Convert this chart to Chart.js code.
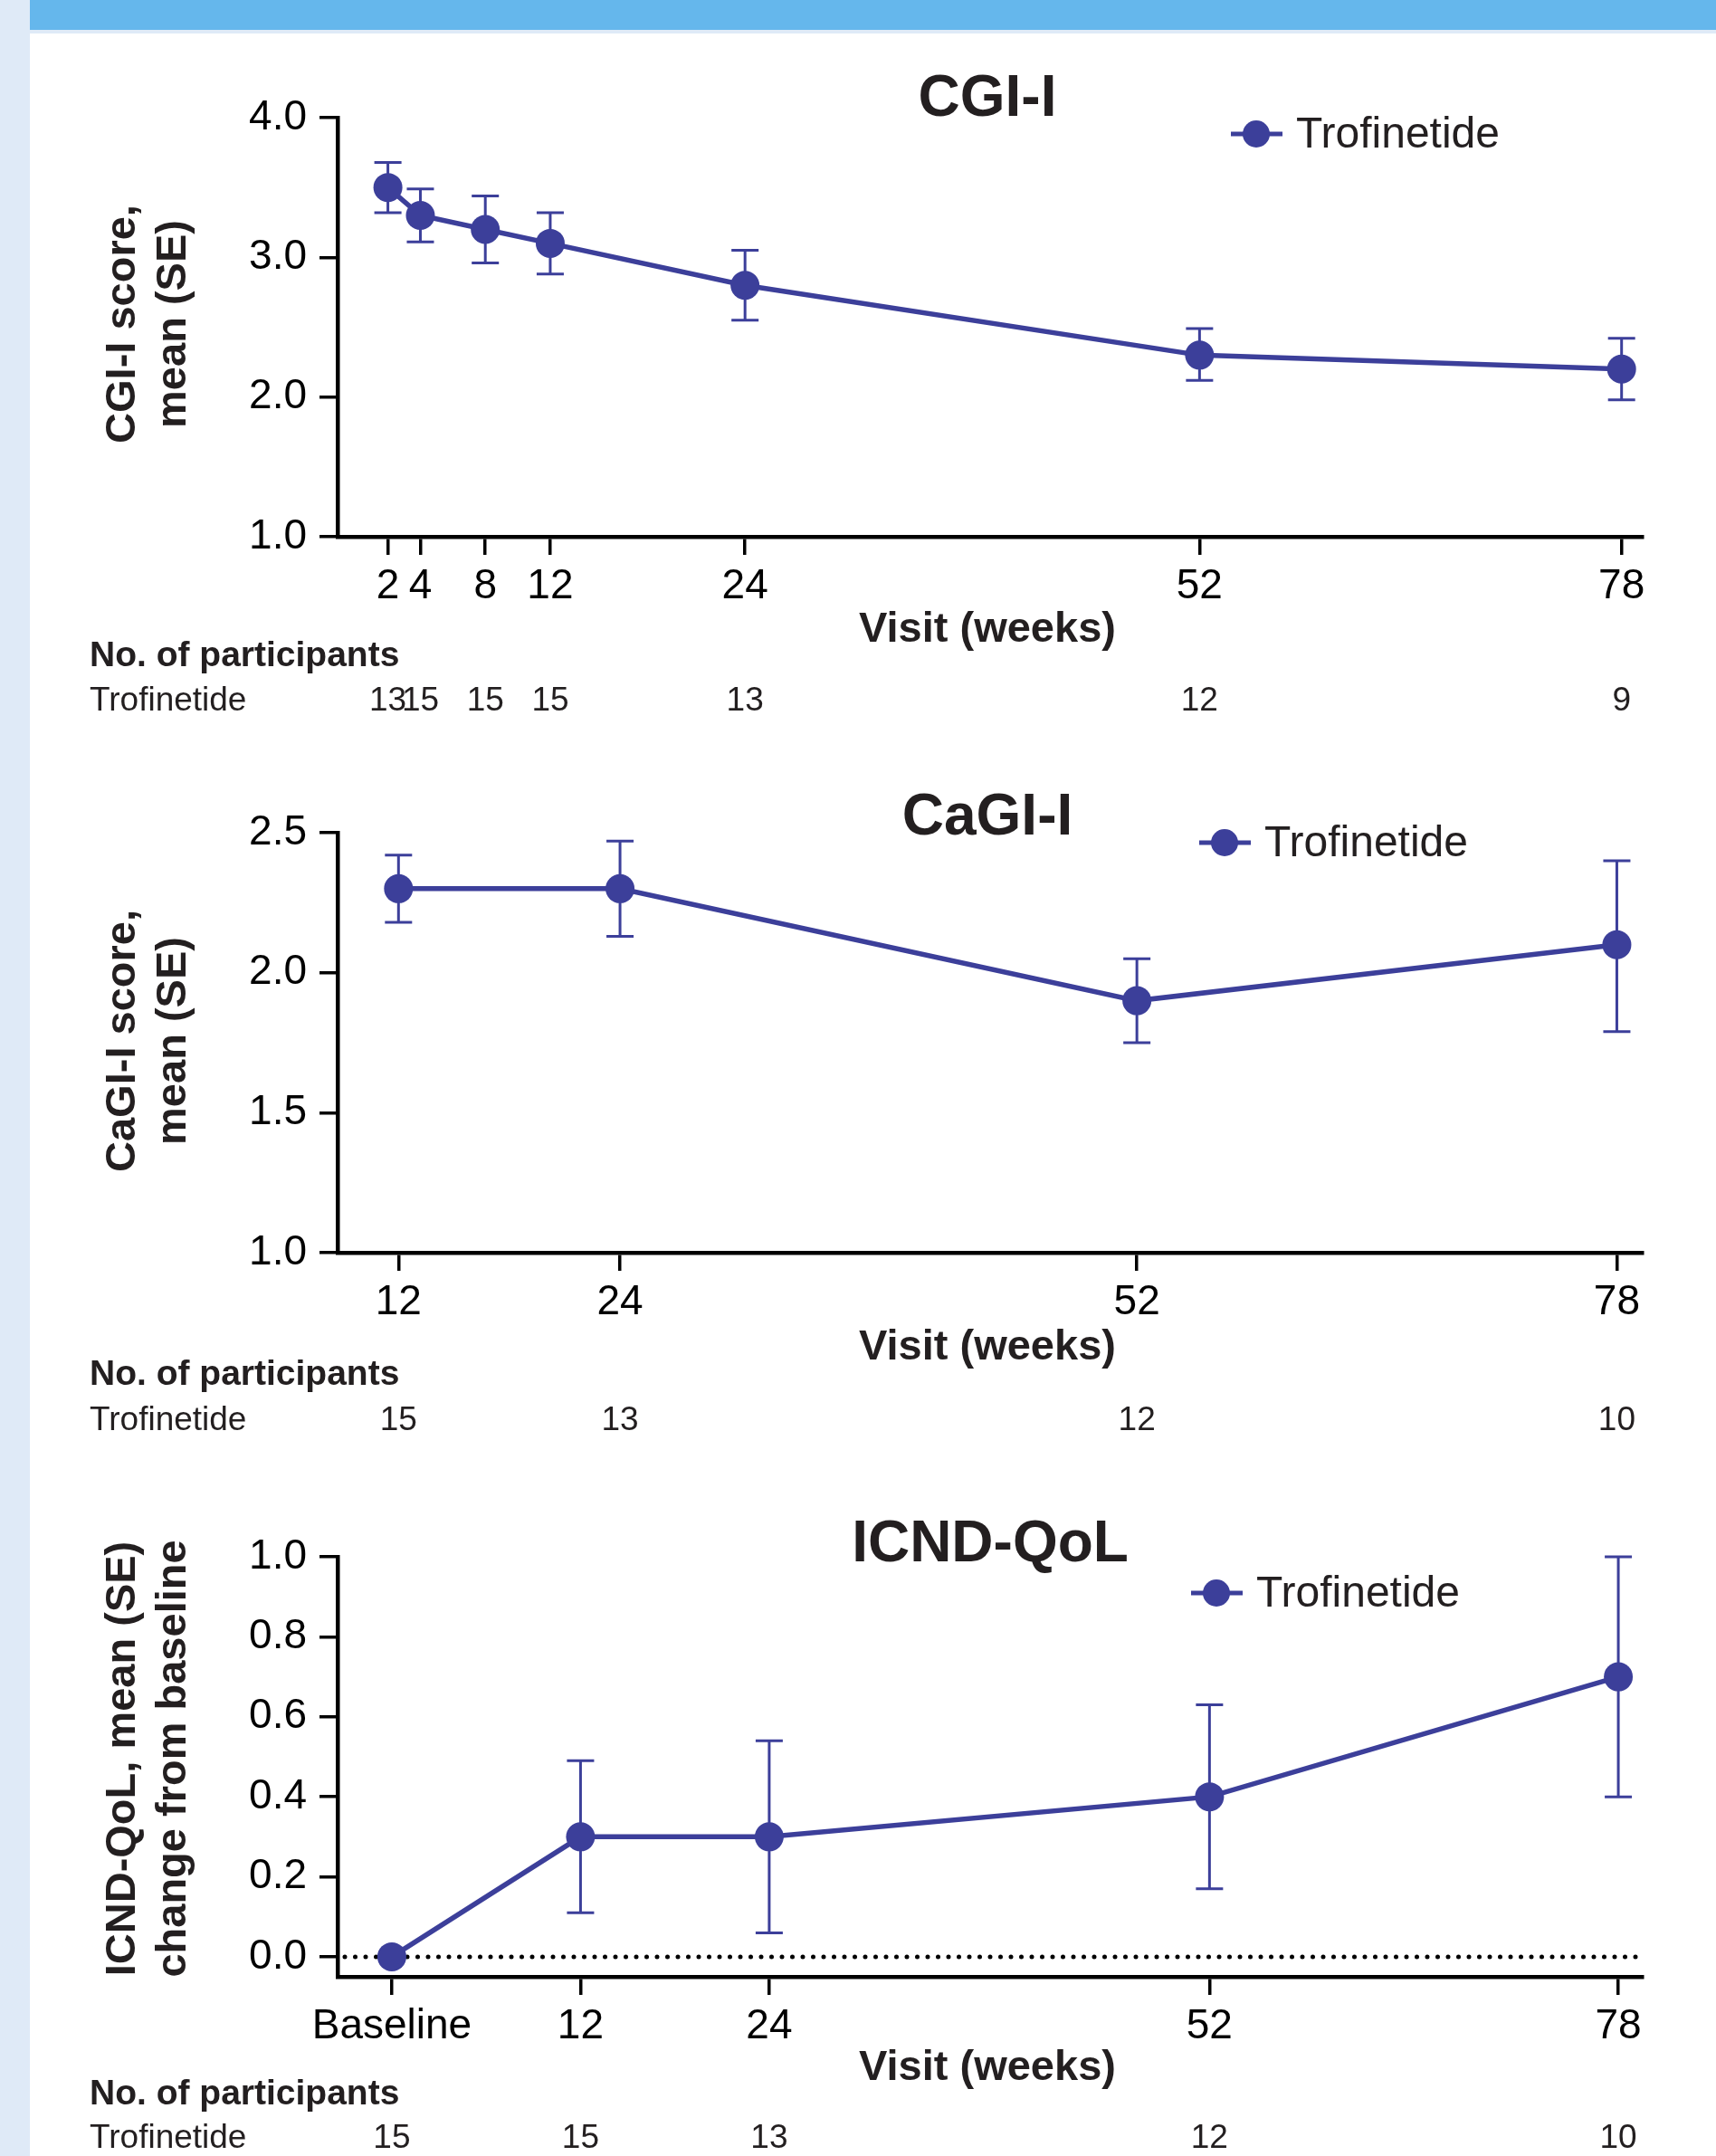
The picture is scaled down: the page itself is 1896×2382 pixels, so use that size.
<!DOCTYPE html>
<html>
<head>
<meta charset="utf-8">
<script src="https://cdn.jsdelivr.net/npm/chart.js@4.4.1/dist/chart.umd.min.js"></script>
<style>
  html, body { margin: 0; padding: 0; background: #fff; }
  body { width: 1896px; height: 2382px; position: relative; overflow: hidden; }
  #strip { position: absolute; left: 0; top: 0; width: 33px; height: 2382px; background: #dfeaf7; }
  #banner { position: absolute; left: 33px; top: 0; width: 1863px; height: 33px; background: #65b7ec; border-bottom: 4px solid #dfeaf7; }
  canvas { position: absolute; left: 0; }
</style>
</head>
<body>
<div id="strip"></div>
<div id="banner"></div>
<canvas id="c1" width="1896" height="760" style="top:40px"></canvas>
<canvas id="c2" width="1896" height="800" style="top:800px"></canvas>
<canvas id="c3" width="1896" height="782" style="top:1600px"></canvas>
<script>
const COLOR = "#3c3f9a";
const INK = "#231f20";
const FONT = "'Liberation Sans', Arial, Helvetica, sans-serif";

// CGI-I
const cgiWeeks = [2, 4, 8, 12, 24, 52, 78];
const cgiMean = [3.5, 3.3, 3.2, 3.1, 2.8, 2.3, 2.2];
const cgiLow = [3.32, 3.11, 2.96, 2.88, 2.55, 2.12, 1.98];
const cgiHigh = [3.68, 3.49, 3.44, 3.32, 3.05, 2.49, 2.42];
const cgiN = [13, 15, 15, 15, 13, 12, 9];
const cgiYTicks = [1.0, 2.0, 3.0, 4.0];

// CaGI-I
const cagiWeeks = [12, 24, 52, 78];
const cagiMean = [2.3, 2.3, 1.9, 2.1];
const cagiLow = [2.18, 2.13, 1.75, 1.79];
const cagiHigh = [2.42, 2.47, 2.05, 2.40];
const cagiN = [15, 13, 12, 10];
const cagiYTicks = [1.0, 1.5, 2.0, 2.5];

// ICND-QoL (change from baseline)
const qolWeeks = [0, 12, 24, 52, 78];
const qolMean = [0.0, 0.3, 0.3, 0.4, 0.7];
const qolLow = [null, 0.11, 0.06, 0.17, 0.40];
const qolHigh = [null, 0.49, 0.54, 0.63, 1.00];
const qolN = [15, 15, 13, 12, 10];
const qolYTicks = [0.0, 0.2, 0.4, 0.6, 0.8, 1.0];

const AREA_LEFT = 373;
const AREA_RIGHT = 1815;

function makePanel(id, top, p) {
  const canvas = document.getElementById(id);
  const H = canvas.height;

  const extras = {
    id: "extras",
    beforeDatasetsDraw(chart) {
      const { ctx, scales: { x, y } } = chart;
      ctx.save();
      if (p.zeroLine) {
        const y0 = y.getPixelForValue(0);
        ctx.strokeStyle = "#000";
        ctx.lineWidth = 5;
        ctx.lineCap = "round";
        ctx.setLineDash([0, 11.5]);
        ctx.beginPath();
        ctx.moveTo(chart.chartArea.left + 8, y0);
        ctx.lineTo(chart.chartArea.right, y0);
        ctx.stroke();
        ctx.setLineDash([]);
      }
      ctx.strokeStyle = COLOR;
      ctx.lineWidth = 3;
      ctx.lineCap = "butt";
      p.weeks.forEach((w, i) => {
        if (p.low[i] == null) return;
        const px = x.getPixelForValue(w);
        const y1 = y.getPixelForValue(p.low[i]);
        const y2 = y.getPixelForValue(p.high[i]);
        ctx.beginPath();
        ctx.moveTo(px, y1); ctx.lineTo(px, y2);
        ctx.moveTo(px - 15, y1); ctx.lineTo(px + 15, y1);
        ctx.moveTo(px - 15, y2); ctx.lineTo(px + 15, y2);
        ctx.stroke();
      });
      ctx.restore();
    },
    afterDraw(chart) {
      const { ctx, scales: { x } } = chart;
      ctx.save();
      ctx.translate(0, -top);
      ctx.fillStyle = INK;

      // title
      ctx.font = "bold 64px " + FONT;
      ctx.textAlign = "center";
      ctx.textBaseline = "middle";
      ctx.fillText(p.title, p.titleX, p.titleY);

      // legend
      const [lx, ly] = p.legend;
      ctx.strokeStyle = COLOR;
      ctx.lineWidth = 5;
      ctx.beginPath();
      ctx.moveTo(lx - 28, ly); ctx.lineTo(lx + 29, ly);
      ctx.stroke();
      ctx.fillStyle = COLOR;
      ctx.beginPath();
      ctx.arc(lx, ly, 15, 0, Math.PI * 2);
      ctx.fill();
      ctx.fillStyle = INK;
      ctx.font = "48px " + FONT;
      ctx.textAlign = "left";
      ctx.fillText("Trofinetide", lx + 44, ly + 2);

      // x-axis title
      ctx.font = "bold 47px " + FONT;
      ctx.textAlign = "center";
      ctx.fillText("Visit (weeks)", 1091, p.xTitleY);

      // y-axis title (two lines, rotated)
      ctx.save();
      ctx.translate(0, p.yTitleY);
      ctx.rotate(-Math.PI / 2);
      ctx.font = "bold 47px " + FONT;
      ctx.textAlign = "center";
      ctx.fillText(p.yTitle[0], 0, 136);
      ctx.fillText(p.yTitle[1], 0, 192);
      ctx.restore();

      // participants table
      ctx.textAlign = "left";
      ctx.font = "bold 39px " + FONT;
      ctx.fillText("No. of participants", 99, p.nHeadY);
      ctx.font = "37px " + FONT;
      ctx.fillText("Trofinetide", 99, p.nRowY);
      ctx.textAlign = "center";
      p.weeks.forEach((w, i) => {
        ctx.fillText(String(p.n[i]), x.getPixelForValue(w), p.nRowY);
      });
      ctx.restore();
    }
  };

  const axisGrid = { drawOnChartArea: false, drawTicks: true, tickLength: 20, color: "#000", lineWidth: 3.5 };
  const axisBorder = { display: true, color: "#000", width: 4.5 };

  return new Chart(canvas, {
    type: "line",
    data: {
      datasets: [{
        label: "Trofinetide",
        data: p.weeks.map((w, i) => ({ x: w, y: p.mean[i] })),
        borderColor: COLOR,
        backgroundColor: COLOR,
        borderWidth: 5.5,
        pointRadius: 16,
        pointBorderWidth: 0,
        pointBackgroundColor: COLOR,
        tension: 0,
        clip: false
      }]
    },
    options: {
      responsive: false,
      animation: false,
      devicePixelRatio: 1,
      layout: { padding: { left: 0, right: 1896 - AREA_RIGHT, top: p.areaTop - top, bottom: 0 } },
      plugins: { legend: { display: false }, title: { display: false }, tooltip: { enabled: false } },
      scales: {
        x: {
          type: "linear",
          min: p.xMin,
          max: p.xMax,
          afterFit(s) { s.height = top + H - p.areaBottom; },
          afterBuildTicks(s) { s.ticks = p.weeks.map(v => ({ value: v })); },
          ticks: {
            autoSkip: false, maxRotation: 0, padding: 8, color: "#000",
            font: { size: 46, family: FONT },
            callback: v => (v === 0 ? "Baseline" : String(v))
          },
          grid: axisGrid,
          border: axisBorder
        },
        y: {
          type: "linear",
          min: p.yMin,
          max: p.yMax,
          afterFit(s) { s.width = AREA_LEFT; },
          afterBuildTicks(s) { s.ticks = p.yTicks.map(v => ({ value: v })); },
          ticks: {
            padding: 14, color: "#000",
            font: { size: 46, family: FONT },
            callback: v => Number(v).toFixed(1)
          },
          grid: axisGrid,
          border: axisBorder
        }
      }
    },
    plugins: [extras]
  });
}

makePanel("c1", 40, {
  weeks: cgiWeeks, mean: cgiMean, low: cgiLow, high: cgiHigh, n: cgiN, yTicks: cgiYTicks,
  xMin: -1.1, xMax: 79.3, yMin: 1, yMax: 4,
  areaTop: 130, areaBottom: 593,
  title: "CGI-I", titleX: 1091, titleY: 110,
  legend: [1388, 148],
  xTitleY: 696, yTitleY: 358, yTitle: ["CGI-I score,", "mean (SE)"],
  nHeadY: 725, nRowY: 775
});

makePanel("c2", 800, {
  weeks: cagiWeeks, mean: cagiMean, low: cagiLow, high: cagiHigh, n: cagiN, yTicks: cagiYTicks,
  xMin: 8.7, xMax: 79.4, yMin: 1, yMax: 2.5,
  areaTop: 920, areaBottom: 1384,
  title: "CaGI-I", titleX: 1091, titleY: 904,
  legend: [1353, 931],
  xTitleY: 1489, yTitleY: 1150, yTitle: ["CaGI-I score,", "mean (SE)"],
  nHeadY: 1519, nRowY: 1570
});

makePanel("c3", 1600, {
  weeks: qolWeeks, mean: qolMean, low: qolLow, high: qolHigh, n: qolN, yTicks: qolYTicks,
  xMin: -3.45, xMax: 79.55, yMin: -0.05, yMax: 1.0,
  areaTop: 1720, areaBottom: 2184, zeroLine: true,
  title: "ICND-QoL", titleX: 1094, titleY: 1707,
  legend: [1344, 1760],
  xTitleY: 2285, yTitleY: 1943, yTitle: ["ICND-QoL, mean (SE)", "change from baseline"],
  nHeadY: 2314, nRowY: 2363
});
</script>
</body>
</html>
